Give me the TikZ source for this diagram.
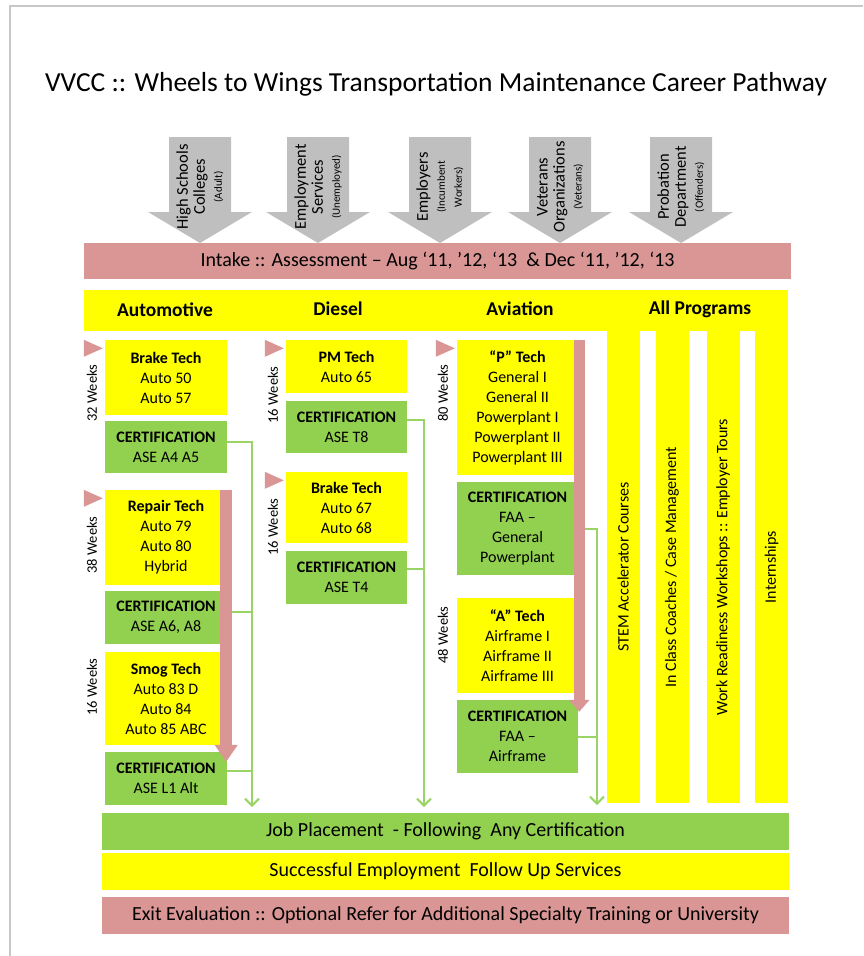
\documentclass[tikz,border=0pt]{standalone}
\usepackage{fontspec}
\setmainfont{Carlito}
\usetikzlibrary{arrows.meta,calc}

\definecolor{intakepink}{HTML}{D99694}
\definecolor{hiyellow}{HTML}{FFFF00}
\definecolor{certgreen}{HTML}{92D050}
\definecolor{linkgreen}{HTML}{9BD466}
\definecolor{feedgrey}{HTML}{BFBFBF}
\definecolor{framegrey}{HTML}{C8C8C8}

\newcommand{\tinynote}[1]{{\fontsize{11}{14}\selectfont #1}}

\tikzset{
  techbox/.style={fill=hiyellow, align=center, inner sep=0pt, minimum width=122pt, font=\fontsize{16}{20}\selectfont},
  certbox/.style={techbox, fill=certgreen},
  head/.style={font=\bfseries\fontsize{19.5}{22}\selectfont},
  bar/.style={inner sep=0pt, minimum width=687pt, minimum height=37pt, font=\fontsize{20}{22}\selectfont},
  feedtext/.style={rotate=90, align=center, inner sep=0pt, font=\fontsize{16.5}{17}\selectfont},
  strip/.style={fill=hiyellow, rotate=90, inner sep=0pt, minimum width=472pt, minimum height=33pt, font=\fontsize{16}{18}\selectfont},
  weeks/.style={rotate=90, inner sep=0pt, font=\fontsize{14.5}{16}\selectfont},
  link/.style={linkgreen, line width=2pt},
  linkend/.style={link, -{Straight Barb[length=7pt,width=14pt]}},
  pinkflow/.style={intakepink, line width=12pt, -{Triangle[length=17pt,width=22pt]}}
}

\begin{document}
\begin{tikzpicture}[x=1pt,y=-1pt]
    \useasboundingbox (0,0) rectangle (863,956);

    % Frame and title
    \draw[framegrey, line width=2pt] (10,956) -- (10,6) -- (863,6);
    \node[font=\fontsize{27.5}{32}\selectfont] (title) at (436,84) {VVCC :: Wheels to Wings Transportation Maintenance Career Pathway};

    % Feeder arrows into intake
    \foreach \cx/\who in {200/{High Schools\\Colleges\\\tinynote{(Adult)}},
                          318/{Employment\\Services\\\tinynote{(Unemployed)}},
                          440/{Employers\\\tinynote{(Incumbent}\\\tinynote{Workers)}},
                          560/{Veterans\\Organizations\\\tinynote{(Veterans)}},
                          681/{Probation\\Department\\\tinynote{(Offenders)}}} {
        \fill[feedgrey] (\cx-31,137) -- (\cx+31,137) -- (\cx+31,212) -- (\cx+52,212)
            -- (\cx,243) -- (\cx-52,212) -- (\cx-31,212) -- cycle;
        \node[feedtext] (src-\cx) at (\cx,187) {\who};
    }

    % Intake bar
    \node[bar, fill=intakepink, minimum width=707pt, minimum height=36pt] (intake) at (437.5,261)
        {Intake :: Assessment – Aug ‘11, ’12, ‘13 \ \& Dec ‘11, ’12, ‘13};

    % Program header band and the all-program strips
    \fill[hiyellow] (84,290) rectangle (788,331);
    \foreach \sx/\name/\txt in {623/s1/STEM Accelerator Courses,
                                672/s2/{In Class Coaches / Case Management},
                                723/s3/Work Readiness Workshops :: Employer Tours,
                                771.5/s4/Internships} {
        \node[strip] (\name) at (\sx,567) {\txt};
    }
    \node[head] (hauto) at (165,310) {Automotive};
    \node[head] (hdiesel) at (338,309) {Diesel};
    \node[head] (havia) at (520,309) {Aviation};
    \node[head] (hall) at (700,309) {All Programs};

    % Automotive
    \node[techbox, minimum height=75pt] (ab1) at (166,377.5) {\textbf{Brake Tech}\\Auto 50\\Auto 57};
    \node[certbox, minimum height=52pt] (ac1) at (166,447) {\textbf{CERTIFICATION}\\ASE A4 A5};
    \node[techbox, minimum height=95pt] (ab2) at (166,537.5) {\textbf{Repair Tech}\\Auto 79\\Auto 80\\Hybrid};
    \node[certbox, minimum height=53pt] (ac2) at (166,617.5) {\textbf{CERTIFICATION}\\ASE A6, A8};
    \node[techbox, minimum height=93pt] (ab3) at (166,698.5) {\textbf{Smog Tech}\\Auto 83 D\\Auto 84\\Auto 85 ABC};
    \node[certbox, minimum height=53pt] (ac3) at (166,778.5) {\textbf{CERTIFICATION}\\ASE L1 Alt};

    % Diesel
    \node[techbox, minimum width=121pt, minimum height=53pt] (db1) at (346.5,366.5) {\textbf{PM Tech}\\Auto 65};
    \node[certbox, minimum width=121pt, minimum height=52pt] (dc1) at (346.5,427) {\textbf{CERTIFICATION}\\ASE T8};
    \node[techbox, minimum width=121pt, minimum height=71pt] (db2) at (346.5,507.5) {\textbf{Brake Tech}\\Auto 67\\Auto 68};
    \node[certbox, minimum width=121pt, minimum height=53pt] (dc2) at (346.5,577.5) {\textbf{CERTIFICATION}\\ASE T4};

    % Aviation
    \node[techbox, minimum width=121pt, minimum height=135pt] (vb1) at (517.5,407.5)
        {\textbf{“P” Tech}\\General I\\General II\\Powerplant I\\Powerplant II\\Powerplant III};
    \node[certbox, minimum width=121pt, minimum height=93pt] (vc1) at (517.5,528.5)
        {\textbf{CERTIFICATION}\\FAA –\\General\\Powerplant};
    \node[techbox, minimum width=121pt, minimum height=95pt] (vb2) at (517.5,645.5)
        {\textbf{“A” Tech}\\Airframe I\\Airframe II\\Airframe III};
    \node[certbox, minimum width=121pt, minimum height=73pt] (vc2) at (517.5,736.5)
        {\textbf{CERTIFICATION}\\FAA –\\Airframe};

    % Duration labels
    \node[weeks] (w-ab1) at (92,393) {32 Weeks};
    \node[weeks] (w-ab2) at (92,545) {38 Weeks};
    \node[weeks] (w-ab3) at (92,687) {16 Weeks};
    \node[weeks] (w-db1) at (273,395) {16 Weeks};
    \node[weeks] (w-db2) at (273,527) {16 Weeks};
    \node[weeks] (w-vb1) at (443,393) {80 Weeks};
    \node[weeks] (w-vb2) at (443,635) {48 Weeks};

    % Start markers
    \foreach \n in {ab1,ab2,db1,db2,vb1}
        \fill[intakepink] ($(\n.north west)+(-21,0)$) -- ++(19,8.5) -- ++(-19,8.5) -- cycle;

    % Certification links down to job placement
    \coordinate (autoend) at (252,807);
    \coordinate (dieselend) at (424,807);
    \coordinate (aviaend) at (597,805);
    \draw[linkend] (ac1.5) -| (autoend);
    \draw[link] (ac2.5) -- (ac2.5 -| autoend);
    \draw[link] (ac3.7) -- (ac3.7 -| autoend);
    \draw[linkend] (dc1.7) -| (dieselend);
    \draw[link] (dc2.8) -- (dc2.8 -| dieselend);
    \draw[linkend] (vc1.east) -| (aviaend);
    \draw[link] (vc2.east) -- (vc2.east -| aviaend);

    % Progression arrows
    \draw[pinkflow] ([xshift=-1pt]ab2.north east) -- ($(ac3.north east)+(-1,10)$);
    \draw[pinkflow, line width=11pt, -{Triangle[length=12pt,width=20pt]}]
        ([xshift=1pt]vb1.north east) -- ($(vc2.north east)+(1,12)$);

    % Follow-up bars
    \node[bar, fill=certgreen] (jobs) at (445.5,831.5) {Job Placement\ \ - Following\ \ Any Certification};
    \node[bar, fill=hiyellow] (follow) at (445.5,871.5) {Successful Employment\ \ Follow Up Services};
    \node[bar, fill=intakepink] (exit) at (445.5,915.5)
        {Exit Evaluation :: Optional Refer for Additional Specialty Training or University};
\end{tikzpicture}
\end{document}
